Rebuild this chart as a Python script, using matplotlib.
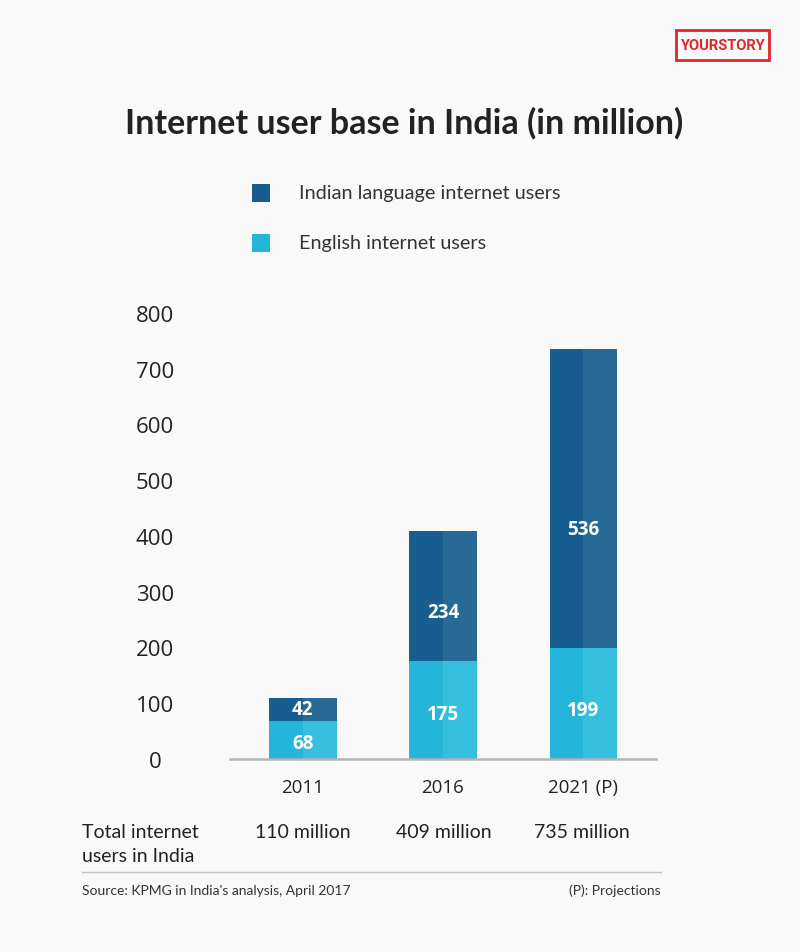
import matplotlib.pyplot as plt
from matplotlib.patches import Rectangle

years = ['2011', '2016', '2021 (P)']
english = [68, 175, 199]
indian = [42, 234, 536]
totals = ['110 million', '409 million', '735 million']
yticks = [0, 100, 200, 300, 400, 500, 600, 700, 800]

BG = '#f9f9f9'
DARK_L, DARK_R = '#175d8f', '#276a96'
LIGHT_L, LIGHT_R = '#23b5da', '#36bfde'
TXT = '#222222'
W, H = 800, 953

plt.rcParams['font.family'] = ['Lato', 'DejaVu Sans']

fig = plt.figure(figsize=(W / 100, H / 100), dpi=100, facecolor=BG)


def px(x, y):
    # pixel coords (from top-left) to figure fraction
    return x / W, 1 - y / H


ax = fig.add_axes([230 / W, 1 - 760 / H, 426 / W, 446 / H])
ax.set_facecolor(BG)
ax.set_xlim(-0.52, 2.52)
ax.set_ylim(0, 800)

xs = range(len(years))
bw = 0.48
for i in xs:
    # two-tone bars: darker left half, lighter right half
    ax.bar(i - bw / 4, english[i], bw / 2, color=LIGHT_L, lw=0)
    ax.bar(i + bw / 4, english[i], bw / 2, color=LIGHT_R, lw=0)
    ax.bar(i - bw / 4, indian[i], bw / 2, bottom=english[i], color=DARK_L, lw=0)
    ax.bar(i + bw / 4, indian[i], bw / 2, bottom=english[i], color=DARK_R, lw=0)

# label placement inside the segments
eng_frac = [0.42, 0.46, 0.44]
ind_frac = [0.5, 0.38, 0.40]
for i in xs:
    ax.text(i, english[i] * eng_frac[i], str(english[i]), ha='center', va='center',
            color='white', fontsize=13.5, fontweight='bold', family='Open Sans')
    ax.text(i, english[i] + indian[i] * ind_frac[i], str(indian[i]), ha='center',
            va='center', color='white', fontsize=13.5, fontweight='bold', family='Open Sans')

for s in ['top', 'right', 'left']:
    ax.spines[s].set_visible(False)
ax.spines['bottom'].set_color('#b5b5b5')
ax.spines['bottom'].set_linewidth(1.8)

ax.set_yticks(yticks)
ax.set_yticklabels([str(v) for v in yticks], fontsize=16, color=TXT, family='Open Sans')
for lab in ax.get_yticklabels():
    lab.set_ha('center')
    lab.set_va('center_baseline')
ax.tick_params(axis='y', length=0, pad=54)
ax.set_xticks(list(xs))
ax.set_xticklabels(years, fontsize=13.5, color=TXT, family='Open Sans')
ax.tick_params(axis='x', length=0, pad=14)

# title
fig.text(*px(404, 123), 'Internet user base in India (in million)', ha='center', va='center',
         fontsize=24.5, fontweight='bold', color=TXT, family=['Lato', 'DejaVu Sans'])

# legend
fig.patches.append(Rectangle(px(252, 203), 18 / W, 18 / H, transform=fig.transFigure,
                             color=DARK_L, lw=0))
fig.patches.append(Rectangle(px(252, 253), 18 / W, 18 / H, transform=fig.transFigure,
                             color=LIGHT_L, lw=0))
fig.text(*px(299, 193), 'Indian language internet users', ha='left', va='center',
         fontsize=14.3, color='#333333')
fig.text(*px(299, 243), 'English internet users', ha='left', va='center',
         fontsize=14.3, color='#333333')

# logo
fig.patches.append(Rectangle(px(676, 61), 93 / W, 30 / H, transform=fig.transFigure,
                             fill=False, edgecolor='#e0262c', lw=2))
fig.text(*px(722.5, 46), 'YOURSTORY', ha='center', va='center', fontsize=10.5,
         fontweight='bold', color='#e0262c', family='Roboto')

# totals row
fig.text(*px(82, 845), 'Total internet\nusers in India', ha='left', va='center',
         fontsize=14, color=TXT, linespacing=1.5)
tot_x = [303, 444, 582]
for i in xs:
    fig.text(*px(tot_x[i], 833), totals[i], ha='center', va='center', fontsize=14,
             color=TXT)

fig.add_artist(plt.Line2D([82 / W, 661 / W], [1 - 873 / H, 1 - 873 / H],
                          color='#c0c0c0', lw=1, transform=fig.transFigure))
fig.text(*px(82, 891), "Source: KPMG in India's analysis, April 2017", ha='left',
         va='center', fontsize=10, color='#333333')
fig.text(*px(661, 891), '(P): Projections', ha='right', va='center', fontsize=10,
         color='#333333')

fig.savefig('out.png', dpi=100, facecolor=BG)
